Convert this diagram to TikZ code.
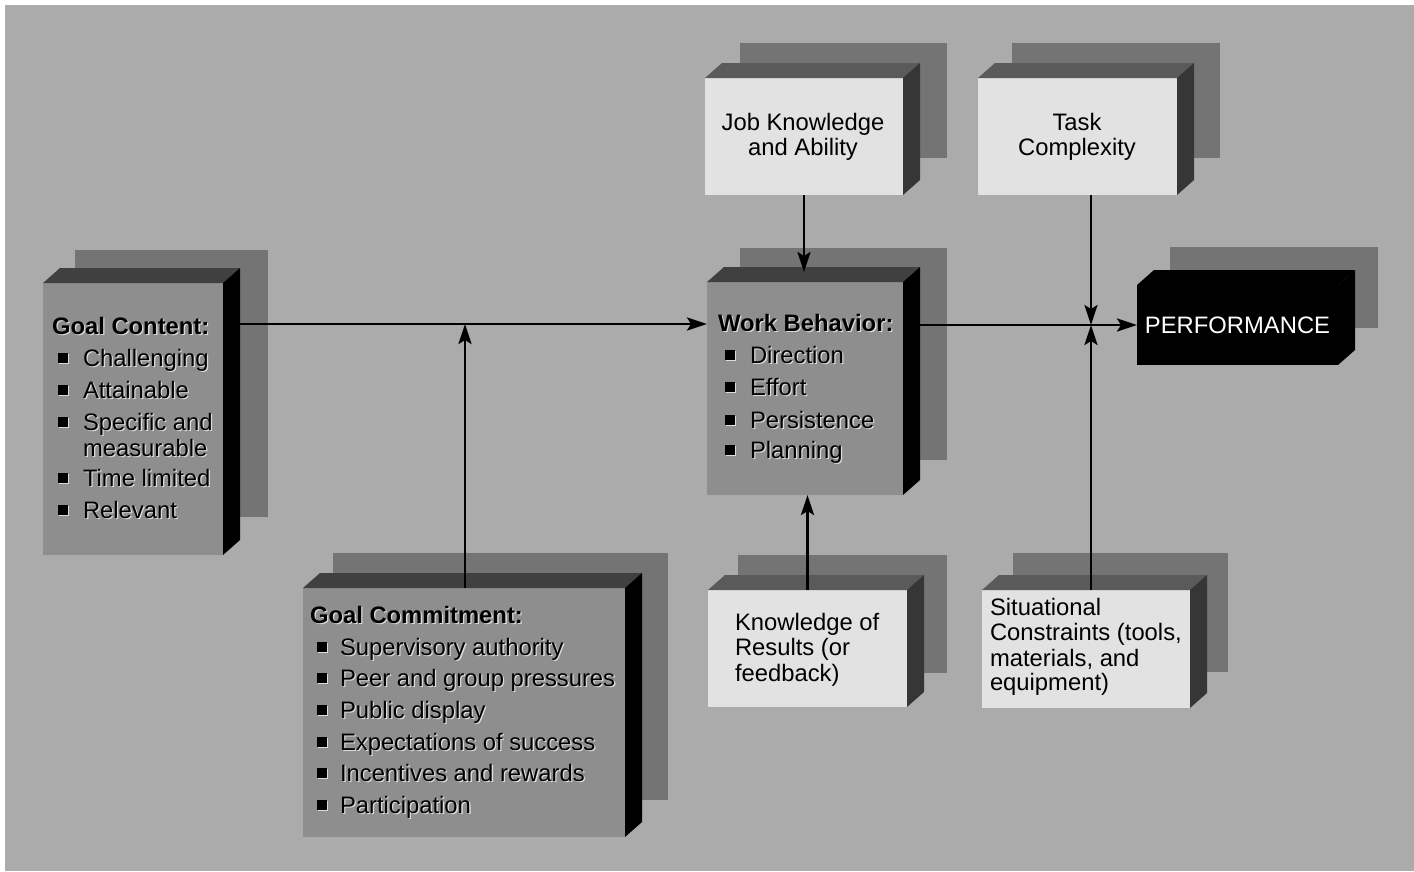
\documentclass[tikz,border=0pt]{standalone}
\usepackage{fontspec}
\setmainfont{Liberation Sans}
\usetikzlibrary{arrows.meta}

\definecolor{paper}{HTML}{ABABAB}
\definecolor{castshadow}{HTML}{747474}
\definecolor{darkfront}{HTML}{8E8E8E}
\definecolor{darktop}{HTML}{404040}
\definecolor{lightfront}{HTML}{E2E2E2}
\definecolor{lighttop}{HTML}{5A5A5A}
\definecolor{lightside}{HTML}{363636}
\definecolor{hilite}{HTML}{DCDCDC}

\newcommand\labelsize{\fontsize{23.8pt}{25.5pt}\selectfont}

\tikzset{
  face/.style={rectangle, inner sep=0pt, outer sep=0pt, draw=none},
  txt/.style={font=\labelsize, inner sep=0pt, outer sep=0pt, anchor=base west},
  ctxt/.style={font=\labelsize, inner sep=0pt, outer sep=0pt, anchor=base},
  head/.style={txt, font=\labelsize\bfseries},
  conn/.style={line width=2.6pt, -{Stealth[length=20pt, width=13pt, inset=4pt]}},
}

% solid block: name, centre of front face, width, height, front, top and side colours
\newcommand\slab[7]{%
  \node[face, fill=#5, minimum width=#3pt, minimum height=#4pt] (#1) at (#2) {};
  \fill[#6] (#1.north west) -- ++(17,-15) -- ([shift={(17,-15)}]#1.north east)
            -- (#1.north east) -- cycle;
  \fill[#7] (#1.north east) -- ++(17,-15) -- ([shift={(17,-15)}]#1.south east)
            -- (#1.south east) -- cycle;
}

% text with a light embossed edge: name, position, style, text
\newcommand\embtext[4]{%
  \node[#3, text=hilite] (#1-hl) at ([shift={(1.3,1.3)}]#2) {#4};
  \node[#3] (#1) at (#2) {#4};
}

% bulleted entry: name, bullet x, text x, line centre y, text
\newcommand\listentry[5]{%
  \fill[hilite] (#2-3.7,#4-3.7) rectangle (#2+6.3,#4+6.3);
  \fill[black] (#2-5,#4-5) rectangle (#2+5,#4+5);
  \embtext{#1}{#3,#4+8}{txt}{#5}
}

\begin{document}
\begin{tikzpicture}[x=1pt, y=-1pt]
\useasboundingbox (0,0) rectangle (1414,871);
\fill[white] (0,0) rectangle (1414,871);
\fill[paper] (5,5) rectangle (1414,871);

% cast shadows behind the blocks
\fill[castshadow] (75,250) rectangle (268,517);
\fill[castshadow] (740,248) rectangle (947,460);
\fill[castshadow] (740,43) rectangle (947,158);
\fill[castshadow] (1012,43) rectangle (1220,158);
\fill[castshadow] (738,555) rectangle (947,673);
\fill[castshadow] (1013,553) rectangle (1228,672);
\fill[castshadow] (333,553) rectangle (668,800);
\fill[castshadow] (1170,247) rectangle (1378,328);

% blocks
\slab{gc}{133,419}{180}{272}{darkfront}{darktop}{black}
\slab{wb}{805,388.5}{196}{213}{darkfront}{darktop}{black}
\slab{gm}{464,712.5}{322}{249}{darkfront}{darktop}{black}
\slab{jk}{804,136.5}{198}{117}{lightfront}{lighttop}{lightside}
\slab{tc}{1077.5,136.5}{199}{117}{lightfront}{lighttop}{lightside}
\slab{kr}{807.5,648.5}{199}{117}{lightfront}{lighttop}{lightside}
\slab{sc}{1086,649}{208}{118}{lightfront}{lighttop}{lightside}
\slab{pf}{1237.5,325}{201}{80}{black}{black}{black}

% goal content
\embtext{gch}{52,334}{head}{Goal Content:}
\listentry{gc1}{63}{83}{358}{Challenging}
\listentry{gc2}{63}{83}{390}{Attainable}
\listentry{gc3}{63}{83}{422}{Specific and}
\embtext{gc3b}{83,456}{txt}{measurable}
\listentry{gc4}{63}{83}{478}{Time limited}
\listentry{gc5}{63}{83}{510}{Relevant}

% work behavior
\embtext{wbh}{718,331}{head}{Work Behavior:}
\listentry{wb1}{730}{750}{355}{Direction}
\listentry{wb2}{730}{750}{387}{Effort}
\listentry{wb3}{730}{750}{420}{Persistence}
\listentry{wb4}{730}{750}{450}{Planning}

% goal commitment
\embtext{gmh}{310,623}{head}{Goal Commitment:}
\listentry{gm1}{322}{340}{647}{Supervisory authority}
\listentry{gm2}{322}{340}{678}{Peer and group pressures}
\listentry{gm3}{322}{340}{710}{Public display}
\listentry{gm4}{322}{340}{742}{Expectations of success}
\listentry{gm5}{322}{340}{773}{Incentives and rewards}
\listentry{gm6}{322}{340}{805}{Participation}

% light blocks
\node[ctxt] (jk1) at (803,130) {Job Knowledge};
\node[ctxt] (jk2) at (803,155) {and Ability};
\node[ctxt] (tc1) at (1077,130) {Task};
\node[ctxt] (tc2) at (1077,155) {Complexity};
\node[txt] (kr1) at (735,630) {Knowledge of};
\node[txt] (kr2) at (735,655) {Results (or};
\node[txt] (kr3) at (735,681) {feedback)};
\node[txt] (sc1) at (990,615) {Situational};
\node[txt] (sc2) at (990,640) {Constraints (tools,};
\node[txt] (sc3) at (990,666) {materials, and};
\node[txt] (sc4) at (990,690) {equipment)};

% outcome
\node[font=\labelsize, text=white, inner sep=0pt] (pft) at (pf.center) {PERFORMANCE};

% connectors
\coordinate (j1) at (465,324);
\coordinate (j2) at (1091,325);
\coordinate (gcOut) at ([xshift=17pt]gc.east);
\coordinate (wbOut) at ([xshift=17pt]wb.east);
\coordinate (wbTop) at ([yshift=10pt]wb.north);

\draw[conn] (gcOut |- j1) -- (wb.west |- j1);
\draw[conn] (gm.north -| j1) -- (j1);
\draw[conn] (jk.south) -- (jk.south |- wbTop);
\draw[conn] (kr.north) -- (kr.north |- wb.south);
\draw[conn] (wbOut |- j2) -- (pf.west |- j2);
\draw[conn] (tc.south -| j2) -- (j2);
\draw[conn] (sc.north -| j2) -- (j2);
\end{tikzpicture}
\end{document}
